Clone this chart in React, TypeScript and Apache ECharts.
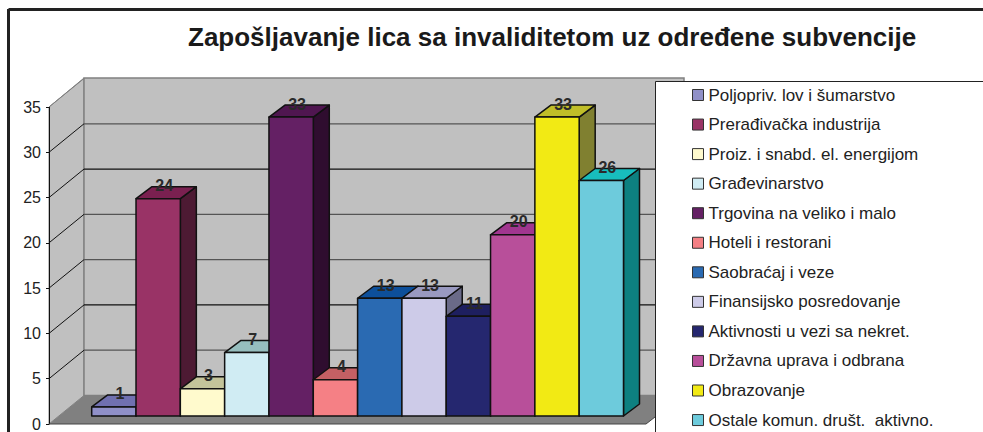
import React, { useEffect, useRef } from "react";
import * as echarts from "echarts";

const categories = ["Poljopriv. lov i šumarstvo","Prerađivačka industrija","Proiz. i snabd. el. energijom","Građevinarstvo","Trgovina na veliko i malo","Hoteli i restorani","Saobraćaj i veze","Finansijsko posredovanje","Aktivnosti u vezi sa nekret.","Državna uprava i odbrana","Obrazovanje","Ostale komun. društ.  aktivno."];
const values = [1,24,3,7,33,4,13,13,11,20,33,26];
const frontColors = ["#9090C8","#993366","#FFFACD","#D0ECF3","#642064","#F58085","#2A6AB2","#CDCBE8","#25276F","#B84F9A","#F2EA14","#6DCBDC"];
const topColors = ["#7070B0","#7A2050","#C4C49A","#96BEBE","#4F1650","#C46064","#0D4F9A","#9999C0","#1E1F5F","#A0368F","#C0BE28","#18BDBD"];
const sideColors = ["#484868","#4D1A33","#80806A","#6A8A90","#2F0D2F","#7A4043","#153559","#6A6A88","#121338","#5C274D","#808030","#0D8080"];
const yTicks = [5,10,15,20,25,30,35];
const gridColors = ["#555","#111","#555","#555","#111","#555","#777"];

const DX = 16, DY = 12, LIFT = 8;
const WALL_X = 35, WALL_Y = 28.5;

export default function App() {
  const ref = useRef<HTMLDivElement>(null);
  useEffect(() => {
    const chart = echarts.init(ref.current!, undefined, { renderer: "svg" });
    const barSeries = categories.map((name, i) => ({
      type: "custom", name, xAxisIndex: 0, yAxisIndex: 0, z: 5,
      itemStyle: { color: frontColors[i] },
      data: [[i, values[i]]],
      encode: { x: 0, y: 1 },
      renderItem: (_p: any, api: any) => {
        const idx = api.value(0), v = api.value(1);
        const base = api.coord([idx, 0]);
        const top = api.coord([idx, v]);
        const w = api.size([1, 0])[0];
        const x0 = base[0] - w / 2, x1 = base[0] + w / 2;
        const y0 = base[1] - LIFT, y1 = top[1] - LIFT;
        const line = { stroke: "#111", lineWidth: 1.5, lineJoin: "round" };
        return {
          type: "group",
          children: [
            { type: "polygon", shape: { points: [[x1, y0], [x1 + DX, y0 - DY], [x1 + DX, y1 - DY], [x1, y1]] }, style: { fill: sideColors[i], ...line } },
            { type: "polygon", shape: { points: [[x0, y1], [x1, y1], [x1 + DX, y1 - DY], [x0 + DX, y1 - DY]] }, style: { fill: topColors[i], ...line } },
            { type: "rect", shape: { x: x0, y: y1, width: x1 - x0, height: y0 - y1 }, style: { fill: frontColors[i], ...line } },
            { type: "text", z2: 50, style: { x: base[0] + 6, y: y1 - 13, text: String(v), fill: "#2a2a2a", font: "bold 16px 'Liberation Sans'", align: "center", verticalAlign: "middle" } },
          ],
        };
      },
    }));
    const wallSeries = {
      type: "custom", silent: true, z: 2, xAxisIndex: 0, yAxisIndex: 0,
      data: yTicks.map((t, i) => [0, t, i]),
      encode: { y: 1 },
      renderItem: (_p: any, api: any) => {
        const t = api.value(1), i = api.value(2);
        const y = api.coord([0, t])[1];
        const children: any[] = [
          { type: "line", shape: { x1: 49, y1: y, x2: 49 + WALL_X, y2: y - WALL_Y }, style: { stroke: t === 35 ? "#808080" : "#111", lineWidth: 1 } },
        ];
        if (t < 35) children.push({ type: "line", shape: { x1: 49 + WALL_X, y1: y - WALL_Y, x2: 656, y2: y - WALL_Y }, style: { stroke: gridColors[i], lineWidth: 1.2 } });
        return { type: "group", children };
      },
    };
    chart.setOption({
      animation: false,
      backgroundColor: "#fff",
      title: {
        text: "Zapošljavanje lica sa invaliditetom uz određene subvencije",
        left: 183, top: 19,
        textStyle: { fontFamily: "Liberation Sans", fontWeight: "bold", fontSize: 26, color: "#1a1a1a" },
      },
      grid: { left: 91.7, width: 531.8, top: 107, height: 317 },
      xAxis: { type: "category", data: categories, show: false },
      yAxis: {
        type: "value", min: 0, max: 35, interval: 5, offset: 42.7,
        axisLine: { show: true, lineStyle: { color: "#111" } },
        axisTick: { show: true, length: 3, lineStyle: { color: "#111" } },
        splitLine: { show: false },
        axisLabel: { fontFamily: "Liberation Sans", fontSize: 16, color: "#222", margin: 8 },
      },
      legend: {
        orient: "vertical", left: 692, top: 86.5, padding: 0, itemGap: 12.55, itemWidth: 11, itemHeight: 11, icon: "rect", z: 300,
        selectedMode: false,
        itemStyle: { borderColor: "#333", borderWidth: 1 },
        textStyle: { fontFamily: "Liberation Sans", fontSize: 17, color: "#222" },
        data: categories,
      },
      graphic: [
        { type: "polygon", z: 0, shape: { points: [[49, 424], [84, 395.5], [84, 78], [49, 107]] }, style: { fill: "#c0c0c0", stroke: "#808080", lineWidth: 1 } },
        { type: "rect", z: 0, shape: { x: 84, y: 78, width: 600, height: 317.5 }, style: { fill: "#c0c0c0", stroke: "#808080", lineWidth: 1.5 } },
        { type: "polygon", z: 0, shape: { points: [[49, 424], [84, 395.5], [672, 395.5], [655, 417], [646, 424]] }, style: { fill: "#808080" } },
        { type: "polyline", z: 1, shape: { points: [[49, 424], [646, 424], [655, 417]] }, style: { fill: "none", stroke: "#444", lineWidth: 1 } },
        { type: "rect", z: 100, shape: { x: 655.5, y: 81.5, width: 340, height: 360 }, style: { fill: "#fff", stroke: "#222", lineWidth: 1 } },
        { type: "line", z: 100, shape: { x1: 8.5, y1: 9.5, x2: 983, y2: 9.5 }, style: { stroke: "#222", lineWidth: 3 } },
        { type: "line", z: 100, shape: { x1: 8.5, y1: 9, x2: 8.5, y2: 432 }, style: { stroke: "#222", lineWidth: 3 } },
      ],
      series: [wallSeries, ...barSeries],
    });
    return () => chart.dispose();
  }, []);
  return <div ref={ref} style={{ position: "fixed", left: 0, top: 0, width: 983, height: 432 }} />;
}
